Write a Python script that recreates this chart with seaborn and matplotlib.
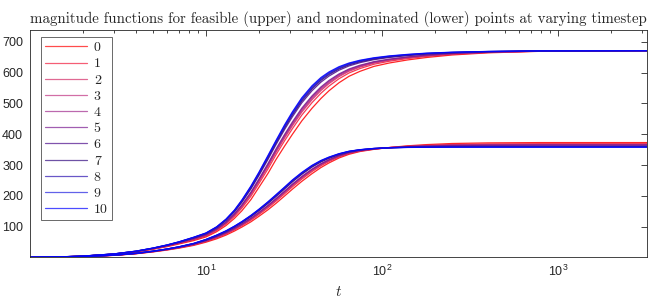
import matplotlib
matplotlib.use("Agg")
import numpy as np
import pandas as pd
import matplotlib.pyplot as plt
import seaborn as sns

# timesteps (x axis, log scale)
t = [1, 1.5, 2, 3, 4, 5, 6, 7, 8.5, 10, 11.5, 13, 14.5, 16, 18, 20, 22.5, 25, 28, 31,
     35, 40, 45, 50, 57, 65, 75, 90, 110, 140, 180, 250, 400, 800, 3200]

# magnitude of the feasible points (upper band), one row per timestep label 0..10
upper = [
    [1, 2.2, 4.3, 10.5, 18, 27, 35.5, 44, 55, 67, 84, 104, 127, 152, 188, 228, 273, 318, 362, 400,
     443, 484, 516, 541, 567, 588, 604, 620, 631, 641, 649, 657, 664, 669, 671],
    [1, 2.3, 4.5, 10.9, 18.7, 28, 36.9, 45.7, 57.7, 70.2, 88, 109.2, 133.7, 160.7, 199, 240.2, 287.5, 333.5, 379.2, 418.2,
     461.7, 502.2, 533, 556.2, 580, 598.7, 613, 627, 636.7, 645.5, 652.5, 659.2, 665.1, 669.4, 671],
    [1, 2.3, 4.6, 11.1, 19.1, 28.5, 37.6, 46.7, 59.2, 71.9, 90.1, 112, 137.3, 165.3, 204.7, 246.6, 295, 341.6, 388.2, 427.7,
     471.5, 511.7, 541.8, 564.2, 586.8, 604.3, 617.7, 630.6, 639.7, 647.8, 654.3, 660.4, 665.7, 669.6, 671],
    [1, 2.3, 4.6, 11.2, 19.3, 28.8, 37.9, 47.1, 59.8, 72.7, 91, 113.2, 138.9, 167.4, 207.4, 249.6, 298.5, 345.3, 392.4, 432.1,
     476, 516.1, 545.9, 567.8, 589.9, 606.9, 619.8, 632.3, 641.1, 648.9, 655.2, 661, 666, 669.7, 671],
    [1, 2.4, 4.7, 11.3, 19.5, 29, 38.3, 47.5, 60.5, 73.5, 92, 114.5, 140.5, 169.5, 210, 252.5, 302, 349, 396.5, 436.5,
     480.5, 520.5, 550, 571.5, 593, 609.5, 622, 634, 642.5, 650, 656, 661.5, 666.3, 669.8, 671],
    [1, 2.4, 4.7, 11.3, 19.6, 29.2, 38.5, 47.8, 61, 74.1, 92.8, 115.5, 141.8, 171.2, 212.2, 254.9, 304.9, 352.1, 399.9, 440.1,
     484.2, 524.1, 553.4, 574.5, 595.6, 611.6, 623.8, 635.4, 643.6, 650.9, 656.7, 661.9, 666.5, 669.8, 671],
    [1, 2.4, 4.8, 11.7, 20.3, 30.1, 39.8, 49.5, 63.6, 77.1, 96.5, 120.4, 148.1, 179.3, 222.3, 266.2, 318.2, 366.4, 415.8, 456.9,
     501.5, 540.9, 569, 588.6, 607.6, 621.5, 632.1, 641.8, 648.9, 655, 659.9, 664, 667.5, 670.2, 671],
    [1, 2.5, 4.9, 11.8, 20.6, 30.4, 40.2, 50, 64.5, 78.2, 97.8, 122.1, 150.2, 182.1, 225.8, 270.1, 322.9, 371.3, 421.3, 462.8,
     507.5, 546.8, 574.5, 593.5, 611.7, 625, 635, 644.1, 650.8, 656.5, 661, 664.7, 667.9, 670.3, 671],
    [1, 2.5, 4.9, 11.9, 20.7, 30.6, 40.5, 50.4, 65, 78.8, 98.6, 123.1, 151.6, 183.8, 228, 272.6, 325.8, 374.4, 424.8, 466.4,
     511.2, 550.4, 577.9, 596.5, 614.3, 627.1, 636.8, 645.5, 651.9, 657.4, 661.7, 665.2, 668.1, 670.4, 671],
    [1, 2.5, 5, 11.9, 20.9, 30.8, 40.8, 50.7, 65.5, 79.4, 99.3, 124.1, 152.8, 185.4, 230, 274.8, 328.4, 377.2, 427.9, 469.7,
     514.6, 553.7, 580.9, 599.3, 616.7, 629.1, 638.4, 646.7, 653, 658.2, 662.4, 665.6, 668.3, 670.4, 671],
    [1, 2.5, 5, 12, 21, 31, 41, 51, 66, 80, 100, 125, 154, 187, 232, 277, 331, 380, 431, 473,
     518, 557, 584, 602, 619, 631, 640, 648, 654, 659, 663, 666, 668.5, 670.5, 671],
]

# magnitude of the nondominated points (lower band)
lower = [
    [1, 1.9, 3.2, 7.2, 12.5, 18.5, 24.5, 30.5, 39.5, 50, 61, 73, 86, 99, 116, 134, 155, 176, 200, 222,
     247, 272, 292, 307, 323, 335, 344, 351, 357, 362.5, 366.5, 370, 372, 373, 373],
    [1, 1.9, 3.3, 7.4, 12.9, 19.1, 25.4, 31.6, 41.1, 52.2, 64, 76.5, 90, 103.5, 121.2, 139.7, 161.5, 183, 207.2, 229.5,
     254.2, 278.7, 297.7, 311.7, 326.5, 337.5, 345.5, 351.7, 356.8, 361.2, 364.3, 367, 368.5, 369.3, 369.3],
    [1, 1.9, 3.3, 7.5, 13.1, 19.4, 25.8, 32.2, 42, 53.4, 65.6, 78.3, 92.1, 105.8, 124, 142.7, 164.9, 186.6, 211, 233.4,
     258, 282.3, 300.7, 314.2, 328.3, 338.8, 346.3, 352.1, 356.6, 360.5, 363.2, 365.4, 366.7, 367.3, 367.3],
    [1, 1.9, 3.3, 7.6, 13.2, 19.6, 26, 32.5, 42.4, 54, 66.3, 79.2, 93, 106.9, 125.2, 144.1, 166.4, 188.3, 212.8, 235.2,
     259.8, 283.9, 302.1, 315.4, 329.2, 339.4, 346.6, 352.3, 356.6, 360.2, 362.6, 364.7, 365.8, 366.4, 366.4],
    [1, 2, 3.4, 7.6, 13.3, 19.8, 26.3, 32.8, 42.8, 54.5, 67, 80, 94, 108, 126.5, 145.5, 168, 190, 214.5, 237,
     261.5, 285.5, 303.5, 316.5, 330, 340, 347, 352.5, 356.5, 359.9, 362.1, 364, 365, 365.5, 365.5],
    [1, 2, 3.4, 7.6, 13.3, 19.9, 26.4, 33, 43.1, 54.9, 67.6, 80.7, 94.8, 108.9, 127.5, 146.6, 169.3, 191.4, 215.9, 238.5,
     262.9, 286.8, 304.6, 317.4, 330.7, 340.5, 347.3, 352.6, 356.5, 359.6, 361.7, 363.4, 364.3, 364.8, 364.8],
    [1, 2, 3.4, 7.8, 13.7, 20.4, 27.2, 34, 44.6, 57, 70.4, 83.9, 98.5, 113, 132.4, 151.9, 175.3, 197.8, 222.6, 245.4,
     269.6, 293.1, 309.9, 321.8, 333.9, 342.8, 348.7, 353.3, 356.2, 358.4, 359.6, 360.6, 361.1, 361.3, 361.3],
    [1, 2, 3.5, 7.9, 13.8, 20.6, 27.5, 34.4, 45.1, 57.7, 71.3, 85, 99.8, 114.5, 134.1, 153.8, 177.4, 200.1, 224.9, 247.8,
     271.9, 295.2, 311.8, 323.3, 335, 343.6, 349.2, 353.6, 356.1, 357.9, 358.9, 359.7, 360, 360.1, 360.1],
    [1, 2, 3.5, 7.9, 13.9, 20.8, 27.7, 34.6, 45.4, 58.2, 71.9, 85.7, 100.6, 115.4, 135.1, 154.9, 178.7, 201.5, 226.4, 249.3,
     273.4, 296.6, 312.9, 324.3, 335.7, 344.1, 349.5, 353.7, 356.1, 357.7, 358.5, 359.1, 359.3, 359.4, 359.4],
    [1, 2, 3.5, 8, 13.9, 20.9, 27.8, 34.8, 45.7, 58.6, 72.5, 86.4, 101.3, 116.2, 136.1, 156, 179.8, 202.7, 227.7, 250.6,
     274.7, 297.8, 314, 325.1, 336.4, 344.5, 349.7, 353.9, 356, 357.4, 358.1, 358.5, 358.6, 358.7, 358.7],
    [1, 2, 3.5, 8, 14, 21, 28, 35, 46, 59, 73, 87, 102, 117, 137, 157, 181, 204, 229, 252,
     276, 299, 315, 326, 337, 345, 350, 354, 356, 357.2, 357.7, 358, 358, 358, 358],
]

step_labels = [str(i) for i in range(11)]

# red -> purple -> blue
colors = ["#ff0000", "#f21a3a", "#d42a66", "#c03080", "#a02a8c", "#7a1a90",
          "#4a0a8a", "#30087f", "#2a10b0", "#2020e0", "#0000ff"]

sns.set_style("white")
plt.rcParams["font.family"] = ["Liberation Sans", "DejaVu Sans"]
plt.rcParams["mathtext.fontset"] = "cm"
plt.rcParams["axes.edgecolor"] = "#262626"
plt.rcParams["xtick.color"] = "#262626"
plt.rcParams["ytick.color"] = "#262626"

fig, ax = plt.subplots(figsize=(6.6, 3.01), dpi=100)
fig.subplots_adjust(left=0.0455, right=0.980, top=0.9003, bottom=0.1452)

for i, lab in enumerate(step_labels):
    df_u = pd.DataFrame({"t": t, "mag": upper[i]})
    df_l = pd.DataFrame({"t": t, "mag": lower[i]})
    sns.lineplot(data=df_u, x="t", y="mag", color=colors[i], lw=0.9, alpha=0.85,
                 label=lab, ax=ax)
    sns.lineplot(data=df_l, x="t", y="mag", color=colors[i], lw=0.9, alpha=0.85,
                 legend=False, ax=ax)

ax.set_xscale("log")
ax.set_xlim(1, 3200)
ax.set_ylim(1, 738)
ax.set_xticks([10, 100, 1000])
ax.set_yticks([100, 200, 300, 400, 500, 600, 700])
ax.set_xlabel("$t$", fontsize=11, labelpad=4)
ax.set_ylabel("")
ax.set_title("magnitude functions for feasible (upper) and nondominated (lower) points at varying timestep",
             fontfamily="cmr10", fontsize=10.75, pad=5)

for s in ax.spines.values():
    s.set_linewidth(0.6)
ax.tick_params(which="both", direction="in", top=True, right=True, width=0.6, labelsize=9)
ax.tick_params(which="major", length=4, pad=5)
ax.tick_params(which="minor", length=2.5)

leg = ax.legend(loc="upper left", bbox_to_anchor=(0.0178, 0.968), borderaxespad=0,
                prop={"family": "cmr10", "size": 10},
                frameon=True, fancybox=False, edgecolor="#262626",
                handlelength=3.0, labelspacing=0.25, borderpad=0.3,
                handletextpad=0.5)
leg.get_frame().set_linewidth(0.6)
# legend swatches look a bit lighter than the plotted curves
for ln in leg.get_lines():
    ln.set_alpha(0.7)

plt.savefig("out.png", dpi=100)
